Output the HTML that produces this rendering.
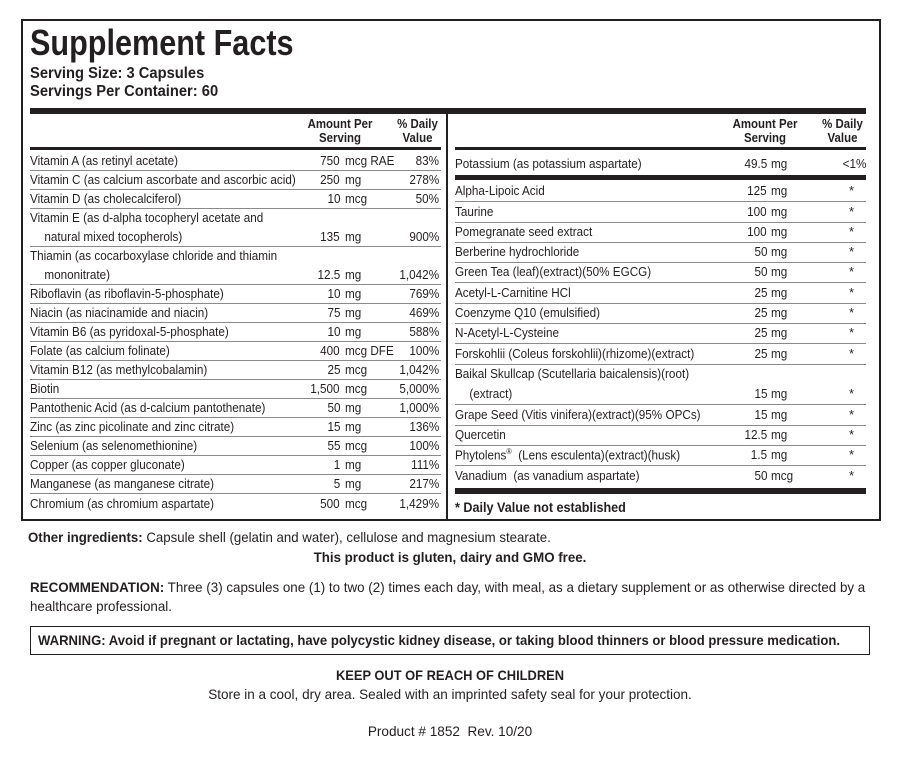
<!DOCTYPE html>
<html><head><meta charset="utf-8"><style>
*{margin:0;padding:0;box-sizing:border-box}
body{width:900px;height:762px;background:#fff;position:relative;overflow:hidden;font-family:"Liberation Sans",sans-serif;color:#231f20;font-size:13px}
.a{position:absolute;white-space:nowrap}
.box{left:21px;top:19px;width:860px;height:502px;border:2px solid #231f20}
.mid{left:446px;top:108px;width:2px;height:413px;background:#231f20}
.bar{background:#231f20;height:6px}
.rl,.rr{position:absolute;border-bottom:1px solid #8a8a8a;line-height:19px;white-space:nowrap}
.rl{left:30px;width:411px}
.rr{left:455px;width:411px;line-height:20px}
.nb{border-bottom:none}
.n,.q,.u,.d,.s{position:absolute;bottom:0;display:inline-block}
.n{left:0;transform:scaleX(.9);transform-origin:left}
.q{right:101px;text-align:right;transform:scaleX(.9);transform-origin:right}
.u{left:315px;transform:scaleX(.9);transform-origin:left}
.d{right:2px;text-align:right;transform:scaleX(.9);transform-origin:right}
.rr .q{right:99px}.rr .u{left:316px}
.s{left:394px}
.h{position:absolute;font-weight:bold;text-align:center;line-height:14px;font-size:13px;transform:scaleX(.88)}
.ind{padding-left:16px}
.sx{display:inline-block;transform-origin:left}
</style></head><body>
<div class="a box"></div>
<div class="a" style="left:30px;top:22px;font-size:36px;font-weight:bold;line-height:42px;transform:scaleX(.85);transform-origin:left">Supplement Facts</div>
<div class="a" style="left:30px;top:65px;font-size:16px;font-weight:bold;line-height:18px;transform:scaleX(.92);transform-origin:left">Serving Size: 3 Capsules<br>Servings Per Container: 60</div>
<div class="a bar" style="left:30px;top:108px;width:836px"></div>
<div class="a mid"></div>
<div class="h" style="left:295px;top:117px;width:90px">Amount Per<br>Serving</div>
<div class="h" style="left:385px;top:117px;width:65px">% Daily<br>Value</div>
<div class="h" style="left:720px;top:117px;width:90px">Amount Per<br>Serving</div>
<div class="h" style="left:810px;top:117px;width:65px">% Daily<br>Value</div>
<div class="a" style="left:30px;top:147px;width:411px;height:3px;background:#231f20"></div>
<div class="a" style="left:455px;top:147px;width:411px;height:3px;background:#231f20"></div>

<div class="rl" style="top:152px;height:19px"><span class="n">Vitamin A (as retinyl acetate)</span><span class="q">750</span><span class="u">mcg RAE</span><span class="d">83%</span></div>
<div class="rl" style="top:171px;height:19px"><span class="n">Vitamin C (as calcium ascorbate and ascorbic acid)</span><span class="q">250</span><span class="u">mg</span><span class="d">278%</span></div>
<div class="rl" style="top:190px;height:19px"><span class="n">Vitamin D (as cholecalciferol)</span><span class="q">10</span><span class="u">mcg</span><span class="d">50%</span></div>
<div class="rl" style="top:209px;height:38px"><span class="n">Vitamin E (as d-alpha tocopheryl acetate and<br><span class="ind">natural mixed tocopherols)</span></span><span class="q">135</span><span class="u">mg</span><span class="d">900%</span></div>
<div class="rl" style="top:247px;height:38px"><span class="n">Thiamin (as cocarboxylase chloride and thiamin<br><span class="ind">mononitrate)</span></span><span class="q">12.5</span><span class="u">mg</span><span class="d">1,042%</span></div>
<div class="rl" style="top:285px;height:19px"><span class="n">Riboflavin (as riboflavin-5-phosphate)</span><span class="q">10</span><span class="u">mg</span><span class="d">769%</span></div>
<div class="rl" style="top:304px;height:19px"><span class="n">Niacin (as niacinamide and niacin)</span><span class="q">75</span><span class="u">mg</span><span class="d">469%</span></div>
<div class="rl" style="top:323px;height:19px"><span class="n">Vitamin B6 (as pyridoxal-5-phosphate)</span><span class="q">10</span><span class="u">mg</span><span class="d">588%</span></div>
<div class="rl" style="top:342px;height:19px"><span class="n">Folate (as calcium folinate)</span><span class="q">400</span><span class="u">mcg DFE</span><span class="d">100%</span></div>
<div class="rl" style="top:361px;height:19px"><span class="n">Vitamin B12 (as methylcobalamin)</span><span class="q">25</span><span class="u">mcg</span><span class="d">1,042%</span></div>
<div class="rl" style="top:380px;height:19px"><span class="n">Biotin</span><span class="q">1,500</span><span class="u">mcg</span><span class="d">5,000%</span></div>
<div class="rl" style="top:399px;height:19px"><span class="n">Pantothenic Acid (as d-calcium pantothenate)</span><span class="q">50</span><span class="u">mg</span><span class="d">1,000%</span></div>
<div class="rl" style="top:418px;height:19px"><span class="n">Zinc (as zinc picolinate and zinc citrate)</span><span class="q">15</span><span class="u">mg</span><span class="d">136%</span></div>
<div class="rl" style="top:437px;height:19px"><span class="n">Selenium (as selenomethionine)</span><span class="q">55</span><span class="u">mcg</span><span class="d">100%</span></div>
<div class="rl" style="top:456px;height:19px"><span class="n">Copper (as copper gluconate)</span><span class="q">1</span><span class="u">mg</span><span class="d">111%</span></div>
<div class="rl" style="top:475px;height:19px"><span class="n">Manganese (as manganese citrate)</span><span class="q">5</span><span class="u">mg</span><span class="d">217%</span></div>
<div class="rl nb" style="top:494px;height:19px"><span class="n">Chromium (as chromium aspartate)</span><span class="q">500</span><span class="u">mcg</span><span class="d">1,429%</span></div>

<div class="rr nb" style="top:152px;height:22px"><span class="n">Potassium (as potassium aspartate)</span><span class="q">49.5</span><span class="u">mg</span><span class="d" style="right:0">&lt;1%</span></div>
<div class="a" style="left:455px;top:175px;width:411px;height:5px;background:#231f20"></div>
<div class="rr" style="top:182px;height:20.3px"><span class="n">Alpha-Lipoic Acid</span><span class="q">125</span><span class="u">mg</span><span class="s">*</span></div>
<div class="rr" style="top:202.3px;height:20.3px"><span class="n">Taurine</span><span class="q">100</span><span class="u">mg</span><span class="s">*</span></div>
<div class="rr" style="top:222.6px;height:20.3px"><span class="n">Pomegranate seed extract</span><span class="q">100</span><span class="u">mg</span><span class="s">*</span></div>
<div class="rr" style="top:242.9px;height:20.3px"><span class="n">Berberine hydrochloride</span><span class="q">50</span><span class="u">mg</span><span class="s">*</span></div>
<div class="rr" style="top:263.2px;height:20.3px"><span class="n">Green Tea (leaf)(extract)(50% EGCG)</span><span class="q">50</span><span class="u">mg</span><span class="s">*</span></div>
<div class="rr" style="top:283.5px;height:20.3px"><span class="n">Acetyl-L-Carnitine HCl</span><span class="q">25</span><span class="u">mg</span><span class="s">*</span></div>
<div class="rr" style="top:303.8px;height:20.3px"><span class="n">Coenzyme Q10 (emulsified)</span><span class="q">25</span><span class="u">mg</span><span class="s">*</span></div>
<div class="rr" style="top:324.1px;height:20.3px"><span class="n">N-Acetyl-L-Cysteine</span><span class="q">25</span><span class="u">mg</span><span class="s">*</span></div>
<div class="rr" style="top:344.4px;height:20.3px"><span class="n">Forskohlii (Coleus forskohlii)(rhizome)(extract)</span><span class="q">25</span><span class="u">mg</span><span class="s">*</span></div>
<div class="rr" style="top:364.7px;height:40.6px"><span class="n">Baikal Skullcap (Scutellaria baicalensis)(root)<br><span class="ind">(extract)</span></span><span class="q">15</span><span class="u">mg</span><span class="s">*</span></div>
<div class="rr" style="top:405.3px;height:20.3px"><span class="n">Grape Seed (Vitis vinifera)(extract)(95% OPCs)</span><span class="q">15</span><span class="u">mg</span><span class="s">*</span></div>
<div class="rr" style="top:425.6px;height:20.3px"><span class="n">Quercetin</span><span class="q">12.5</span><span class="u">mg</span><span class="s">*</span></div>
<div class="rr" style="top:445.9px;height:20.3px"><span class="n">Phytolens<sup style="font-size:8px">®</sup>&nbsp; (Lens esculenta)(extract)(husk)</span><span class="q">1.5</span><span class="u">mg</span><span class="s">*</span></div>
<div class="rr nb" style="top:466.2px;height:20.3px"><span class="n">Vanadium&nbsp; (as vanadium aspartate)</span><span class="q">50</span><span class="u">mcg</span><span class="s">*</span></div>
<div class="a" style="left:455px;top:488px;width:411px;height:6px;background:#231f20"></div>
<div class="a" style="left:455px;top:498px;font-weight:bold;font-size:14px;line-height:18px;transform:scaleX(.9);transform-origin:left">* Daily Value not established</div>

<div class="a" style="left:28px;top:528px;font-size:14px;line-height:18px;transform:scaleX(.945);transform-origin:left"><b>Other ingredients:</b> Capsule shell (gelatin and water), cellulose and magnesium stearate.</div>
<div class="a" style="left:0;width:900px;top:548px;font-size:14px;line-height:18px;text-align:center;font-weight:bold;transform:scaleX(.95)">This product is gluten, dairy and GMO free.</div>
<div class="a" style="left:30px;top:578px;font-size:14px;line-height:19px;transform:scaleX(.955);transform-origin:left"><b>RECOMMENDATION:</b> Three (3) capsules one (1) to two (2) times each day, with meal, as a dietary supplement or as otherwise directed by a<br>healthcare professional.</div>
<div class="a" style="left:30px;top:626px;width:840px;height:29px;border:1.5px solid #231f20"></div>
<div class="a" style="left:38px;top:628px;font-size:14px;font-weight:bold;line-height:24px;transform:scaleX(.935);transform-origin:left">WARNING: Avoid if pregnant or lactating, have polycystic kidney disease, or taking blood thinners or blood pressure medication.</div>
<div class="a" style="left:0;width:900px;top:666px;font-size:14px;line-height:18px;text-align:center;font-weight:bold;transform:scaleX(.92)">KEEP OUT OF REACH OF CHILDREN</div>
<div class="a" style="left:0;width:900px;top:685px;font-size:14px;line-height:18px;text-align:center;transform:scaleX(.965)">Store in a cool, dry area. Sealed with an imprinted safety seal for your protection.</div>
<div class="a" style="left:0;width:900px;top:722px;font-size:14px;line-height:18px;text-align:center;transform:scaleX(.97)">Product # 1852&nbsp; Rev. 10/20</div>
</body></html>
